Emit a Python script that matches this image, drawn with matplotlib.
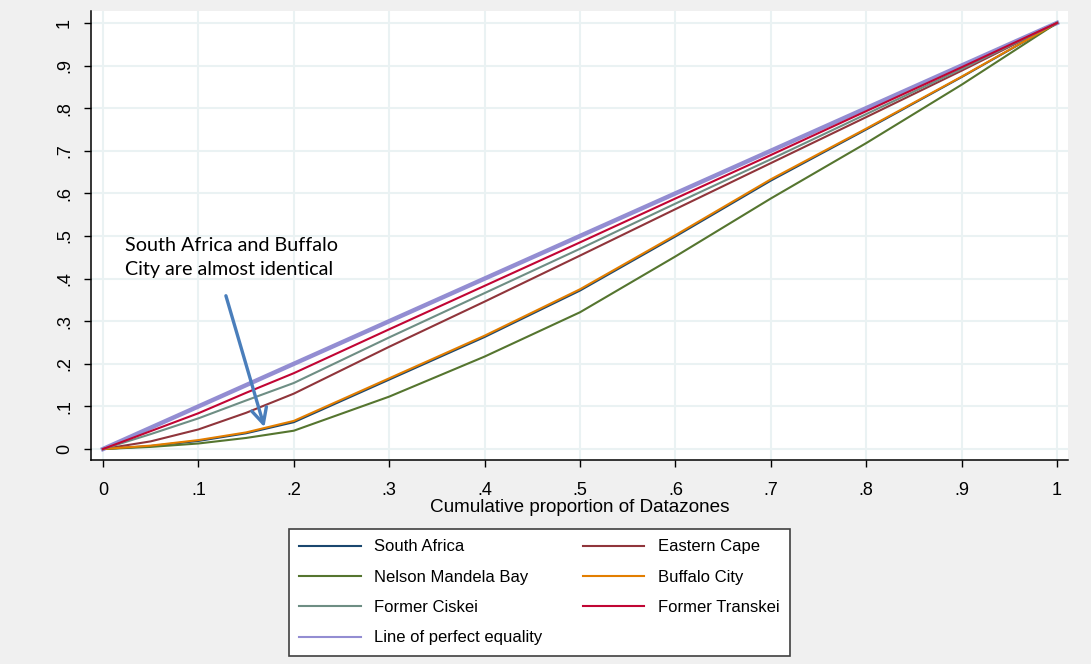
import matplotlib
matplotlib.use("Agg")
import matplotlib.pyplot as plt
from matplotlib.lines import Line2D

# cumulative proportion of datazones
share = [0, .05, .1, .15, .2, .3, .4, .5, .6, .7, .8, .9, 1]

south_africa = [0, .007, .019, .037, .063, .163, .263, .372, .499, .630, .750, .873, 1]
nelson_mandela = [0, .005, .013, .026, .043, .123, .217, .321, .452, .588, .718, .855, 1]
buffalo_city = [0, .008, .021, .039, .066, .166, .266, .375, .502, .633, .752, .874, 1]
eastern_cape = [0, .018, .046, .085, .130, .240, .346, .454, .563, .671, .779, .888, 1]
ciskei = [0, .035, .072, .114, .155, .262, .366, .470, .576, .680, .786, .892, 1]
transkei = [0, .042, .084, .132, .178, .281, .383, .485, .588, .690, .793, .896, 1]
equality = [0, 1]

series = [
    ("South Africa", south_africa, "#1A476F"),
    ("Eastern Cape", eastern_cape, "#90353B"),
    ("Nelson Mandela Bay", nelson_mandela, "#55752F"),
    ("Buffalo City", buffalo_city, "#E37E00"),
    ("Former Ciskei", ciskei, "#6E8E84"),
    ("Former Transkei", transkei, "#C10534"),
]
eq_color = "#938DD2"

plt.rcParams["font.family"] = ["Liberation Sans", "DejaVu Sans"]

fig = plt.figure(figsize=(10.91, 6.64), dpi=100, facecolor="#F0F0F0")
ax = fig.add_axes([0.0834, 0.3072, 0.8955, 0.6762])
ax.set_facecolor("white")

ax.plot(equality, equality, color=eq_color, linewidth=3.2, zorder=2)
handles = {}
for name, vals, col in series:
    ax.plot(share, vals, color=col, linewidth=1.5, zorder=3)
    handles[name] = Line2D([], [], color=col, linewidth=1.5)
handles["Line of perfect equality"] = Line2D([], [], color=eq_color, linewidth=1.5)

ax.set_xlim(-0.0126, 1.0115)
ax.set_ylim(-0.0258, 1.028)

ticks = [i / 10 for i in range(11)]
labels = ["0"] + ["." + str(i) for i in range(1, 10)] + ["1"]
ax.set_xticks(ticks)
ax.set_xticklabels(labels, fontsize=13)
ax.set_yticks(ticks)
ax.set_yticklabels(labels, fontsize=13, rotation=90, va="center")
ax.tick_params(direction="out", length=5, width=1, color="black")
ax.tick_params(axis="x", pad=11)
ax.tick_params(axis="y", pad=8)
ax.grid(True, color="#EAF2F3", linewidth=1.5, zorder=0)
ax.set_axisbelow(True)

for s in ["top", "right"]:
    ax.spines[s].set_visible(False)
for s in ["left", "bottom"]:
    ax.spines[s].set_linewidth(1.1)

ax.set_xlabel("Cumulative proportion of Datazones", fontsize=13.6, labelpad=0)

ax.annotate("", xy=(0.170, 0.045), xytext=(0.128, 0.366),
            arrowprops=dict(arrowstyle="->,head_length=1.1,head_width=0.55",
                            color="#4A7EBB", linewidth=2.4),
            zorder=5)
ax.text(0.023, 0.497, "South Africa and Buffalo\nCity are almost identical",
        fontsize=14.2, family=["Lato", "DejaVu Sans"], va="top", ha="left",
        linespacing=1.45, zorder=6)

order = ["South Africa", "Nelson Mandela Bay", "Former Ciskei",
         "Line of perfect equality", "Eastern Cape", "Buffalo City",
         "Former Transkei"]
leg = fig.legend([handles[n] for n in order], order, ncol=2,
                 loc="upper left", bbox_to_anchor=(289 / 1091, 1 - 529 / 664),
                 fontsize=12, frameon=True, fancybox=False,
                 edgecolor="#404040", facecolor="white", framealpha=1,
                 handlelength=3.7, handletextpad=0.8, columnspacing=2.4,
                 labelspacing=0.92, borderpad=0.62, borderaxespad=0)
leg.get_frame().set_linewidth(1.2)

fig.savefig("out.png", dpi=100, facecolor=fig.get_facecolor())
